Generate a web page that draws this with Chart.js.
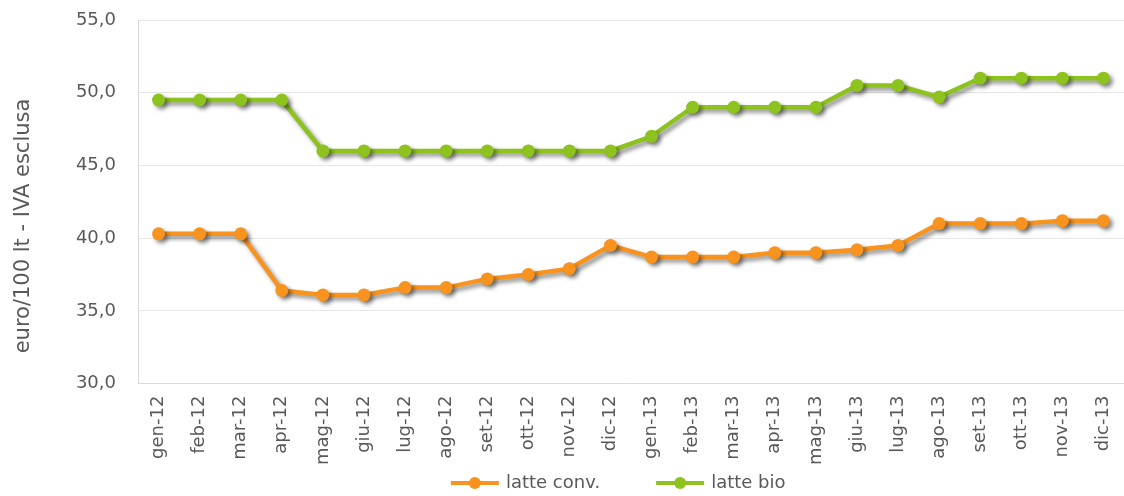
<!DOCTYPE html>
<html>
<head>
<meta charset="utf-8">
<script src="https://cdn.jsdelivr.net/npm/chart.js@4.4.1/dist/chart.umd.min.js"></script>
<style>
  html, body { margin: 0; padding: 0; background: #fff; }
  #wrap { width: 1124px; height: 496px; }
</style>
</head>
<body>
<div id="wrap"><canvas id="prezzi"></canvas></div>
<script>
// mesi gen-12 ... dic-13
const mesi = ["gen-12", "feb-12", "mar-12", "apr-12", "mag-12", "giu-12", "lug-12", "ago-12",
  "set-12", "ott-12", "nov-12", "dic-12", "gen-13", "feb-13", "mar-13", "apr-13",
  "mag-13", "giu-13", "lug-13", "ago-13", "set-13", "ott-13", "nov-13", "dic-13"];

// euro/100 lt
const latteConv = [40.3, 40.3, 40.3, 36.4, 36.1, 36.1, 36.6, 36.6, 37.2, 37.5, 37.9, 39.5,
  38.7, 38.7, 38.7, 39.0, 39.0, 39.2, 39.5, 41.0, 41.0, 41.0, 41.2, 41.2];
const latteBio = [49.5, 49.5, 49.5, 49.5, 46.0, 46.0, 46.0, 46.0, 46.0, 46.0, 46.0, 46.0,
  47.0, 49.0, 49.0, 49.0, 49.0, 50.5, 50.5, 49.7, 51.0, 51.0, 51.0, 51.0];

const yTicks = [30, 35, 40, 45, 50, 55];
const titoloY = 'euro/100 lt - IVA esclusa';

const arancio = '#f7931e';
const verde = '#8dc21f';
const grigioTesto = '#595959';
const font = '"DejaVu Sans", sans-serif';

// ombra sotto le linee
const ombra = {
  id: 'ombra',
  beforeDatasetsDraw(chart) {
    const ctx = chart.ctx;
    ctx.save();
    ctx.shadowColor = 'rgba(0,0,0,0.45)';
    ctx.shadowBlur = 4;
    ctx.shadowOffsetX = 3;
    ctx.shadowOffsetY = 3;
  },
  afterDatasetsDraw(chart) {
    chart.ctx.restore();
  }
};

// titolo asse y e legenda (linea + pallino) disegnati a mano
const extra = {
  id: 'extra',
  afterDraw(chart) {
    const ctx = chart.ctx;
    ctx.save();
    ctx.fillStyle = grigioTesto;
    ctx.font = '21px ' + font;
    ctx.textAlign = 'center';
    ctx.textBaseline = 'middle';
    ctx.translate(24, 226);
    ctx.rotate(-Math.PI / 2);
    ctx.fillText(titoloY, 0, 0);
    ctx.restore();

    ctx.save();
    ctx.font = '18px ' + font;
    ctx.textBaseline = 'middle';
    const lineaW = 48, gapTesto = 7, gapItem = 56;
    const items = chart.data.datasets.map(d => ({
      label: d.label, colore: d.borderColor, w: ctx.measureText(d.label).width
    }));
    const tot = items.reduce((s, it) => s + lineaW + gapTesto + it.w, 0) + gapItem * (items.length - 1);
    let x = chart.width * 0.55 - tot / 2;
    const y = 483;
    items.forEach(it => {
      ctx.strokeStyle = it.colore;
      ctx.lineWidth = 4;
      ctx.beginPath(); ctx.moveTo(x, y); ctx.lineTo(x + lineaW, y); ctx.stroke();
      ctx.fillStyle = it.colore;
      ctx.beginPath(); ctx.arc(x + lineaW / 2, y, 6, 0, Math.PI * 2); ctx.fill();
      ctx.fillStyle = grigioTesto;
      ctx.fillText(it.label, x + lineaW + gapTesto, y);
      x += lineaW + gapTesto + it.w + gapItem;
    });
    ctx.restore();
  }
};

Chart.defaults.font.family = font;
Chart.defaults.color = grigioTesto;

new Chart(document.getElementById('prezzi'), {
  type: 'line',
  data: {
    labels: mesi,
    datasets: [{
      label: 'latte conv.',
      data: latteConv,
      borderColor: arancio,
      backgroundColor: arancio,
      borderWidth: 4.5,
      pointRadius: 6.5,
      pointBorderWidth: 0,
      tension: 0,
      clip: false
    }, {
      label: 'latte bio',
      data: latteBio,
      borderColor: verde,
      backgroundColor: verde,
      borderWidth: 4.5,
      pointRadius: 6.5,
      pointBorderWidth: 0,
      tension: 0,
      clip: false
    }]
  },
  options: {
    responsive: true,
    maintainAspectRatio: false,
    animation: false,
    layout: { autoPadding: false, padding: { top: 20, right: -6, left: 12, bottom: 19 } },
    plugins: {
      tooltip: { enabled: false },
      legend: { display: false }
    },
    scales: {
      x: {
        offset: true,
        afterFit(axis) { axis.paddingRight = 0; },
        grid: { display: false, drawTicks: false },
        border: { color: '#d9d9d9', width: 1 },
        ticks: {
          maxRotation: 90,
          minRotation: 90,
          autoSkip: false,
          padding: 12,
          font: { size: 18 },
          color: grigioTesto
        }
      },
      y: {
        min: 30,
        max: 55,
        afterBuildTicks(axis) {
          axis.ticks = yTicks.map(v => ({ value: v }));
        },
        afterFit(axis) {
          axis.width = 126;
          axis.paddingTop = 0;
          axis.paddingBottom = 0;
        },
        grid: { color: '#e6e6e6', drawTicks: false },
        border: { color: '#d9d9d9', width: 1 },
        ticks: {
          padding: 22,
          font: { size: 18 },
          color: grigioTesto,
          callback: v => v.toFixed(1).replace('.', ',')
        }
      }
    }
  },
  plugins: [ombra, extra]
});
</script>
</body>
</html>
